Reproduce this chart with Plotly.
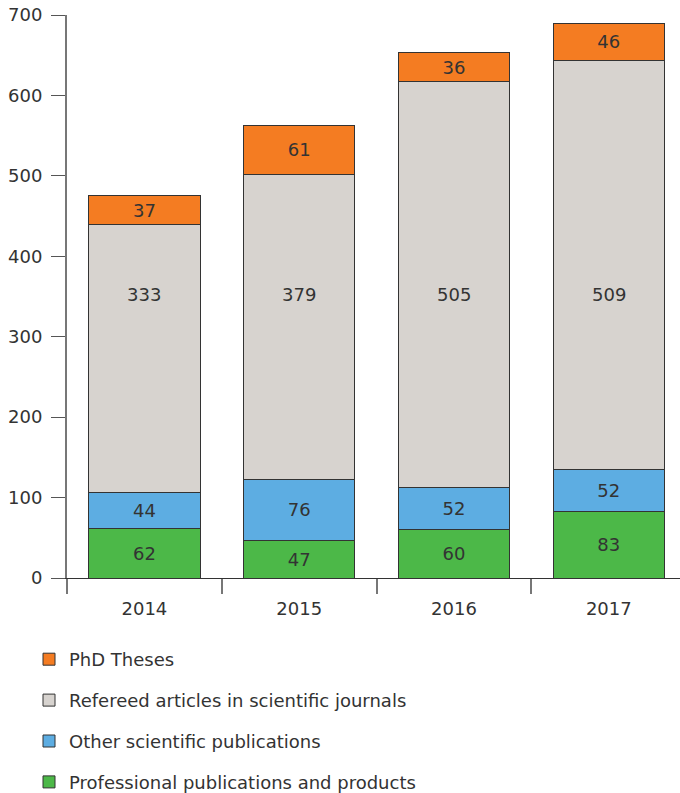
import plotly.graph_objects as go

years = ["2014", "2015", "2016", "2017"]
professional = [62, 47, 60, 83]
other_sci = [44, 76, 52, 52]
refereed = [333, 379, 505, 509]
phd = [37, 61, 36, 46]

# (name, values, colour, legend rank) in stacking order, bottom first
series = [
    ("Professional publications and products", professional, "#4cb848", 4),
    ("Other scientific publications", other_sci, "#5dade2", 3),
    ("Refereed articles in scientific journals", refereed, "#d7d3cf", 2),
    ("PhD Theses", phd, "#f47c22", 1),
]

FONT = "DejaVu Sans"
TXT = "#333333"
FS = 18
REFEREED_LABEL_Y = 352  # common height for the refereed-article labels

fig = go.Figure()
for i, (name, vals, color, rank) in enumerate(series):
    is_refereed = vals is refereed
    fig.add_trace(go.Bar(
        x=years, y=vals, name=name, legendgroup=f"g{i}", legendrank=rank,
        marker=dict(color=color, line=dict(color="#333333", width=1)),
        text=None if is_refereed else vals,
        textposition="inside", insidetextanchor="middle",
        textangle=0, constraintext="none",
        textfont=dict(family=FONT, size=FS, color=TXT),
        hoverinfo="skip",
    ))

# refereed-article counts written on one line across the bars
# (category axis: annotations are placed by category index)
for idx, v in enumerate(refereed):
    fig.add_annotation(
        x=idx, y=REFEREED_LABEL_Y, xref="x", yref="y",
        text=str(v), showarrow=False,
        font=dict(family=FONT, size=FS, color=TXT),
    )

fig.update_layout(
    width=680, height=793,
    margin=dict(l=67, r=0, t=15, b=215, autoexpand=False),
    barmode="stack", bargap=0.28,
    plot_bgcolor="white", paper_bgcolor="white",
    font=dict(family=FONT, size=FS, color=TXT),
    uniformtext=dict(minsize=FS, mode="show"),
    showlegend=True,
    legend=dict(
        x=(29 - 67) / 613, y=(578 - 641) / 563,
        xanchor="left", yanchor="top",
        traceorder="grouped", tracegroupgap=14.5,
        font=dict(family=FONT, size=FS, color=TXT),
        itemwidth=30,
    ),
    xaxis=dict(
        type="category",
        showline=True, linecolor="#333333", linewidth=1,
        ticks="outside", tickson="boundaries", ticklen=15,
        tickcolor="#777777", tickwidth=2,
        range=[-0.5, 3.46], showgrid=False,
        ticklabelstandoff=14,
        tickfont=dict(family=FONT, size=FS, color=TXT),
    ),
    yaxis=dict(
        range=[0, 700], dtick=100, showgrid=False, zeroline=False,
        showline=True, linecolor="#777777", linewidth=2,
        ticks="outside", ticklen=14, tickcolor="#555555", tickwidth=1,
        ticklabelstandoff=5,
        tickfont=dict(family=FONT, size=FS, color=TXT),
    ),
)

fig.write_html("out.html")
